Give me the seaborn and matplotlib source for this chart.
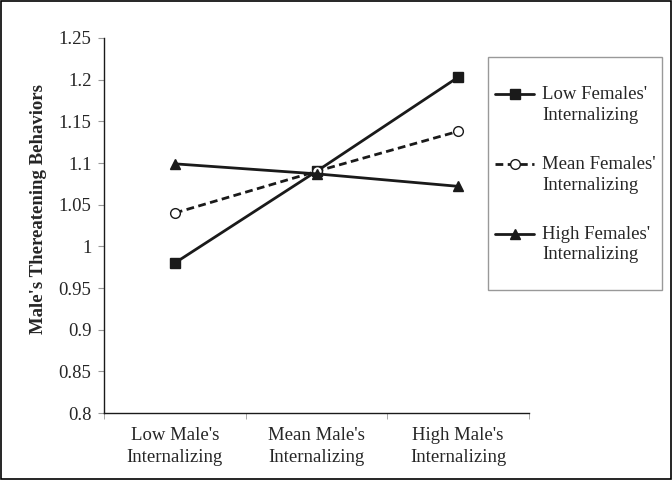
import numpy as np
import pandas as pd
import matplotlib
matplotlib.use("Agg")
import matplotlib.pyplot as plt
import seaborn as sns
from matplotlib.patches import Rectangle

# data
categories = ["Low Male's\nInternalizing", "Mean Male's\nInternalizing", "High Male's\nInternalizing"]
low_females = [0.980, 1.090, 1.203]
mean_females = [1.040, 1.090, 1.138]
high_females = [1.099, 1.087, 1.072]
series_names = ["Low Females'\nInternalizing", "Mean Females'\nInternalizing", "High Females'\nInternalizing"]
y_ticks = [0.8, 0.85, 0.9, 0.95, 1, 1.05, 1.1, 1.15, 1.2, 1.25]

sns.set_style("white")
plt.rcParams['font.family'] = ['Liberation Serif', 'DejaVu Serif']

W, H = 672, 480
fig = plt.figure(figsize=(6.72, 4.8), dpi=100)
ax = fig.add_axes([104 / W, 67 / H, 425 / W, 375 / H])

styles = [
    dict(marker='s', linestyle='-', mfc='#1a1a1a', ms=7.5),
    dict(marker='o', linestyle=(0, (2.8, 1.6)), mfc='white', ms=7),
    dict(marker='^', linestyle='-', mfc='#1a1a1a', ms=7.5),
]
x_pos = np.arange(len(categories))
for vals, name, st in zip([low_females, mean_females, high_females], series_names, styles):
    sns.lineplot(x=x_pos, y=vals, ax=ax, color='#1a1a1a', linewidth=2.0,
                 marker=st['marker'], linestyle=st['linestyle'],
                 markerfacecolor=st['mfc'], markeredgecolor='#1a1a1a',
                 markersize=st['ms'], markeredgewidth=1.0, label=name)

ax.set_xlim(-0.5, 2.5)
ax.set_ylim(0.8, 1.25)
ax.set_yticks(y_ticks)
ax.set_yticklabels([f"{t:g}" for t in y_ticks], fontsize=13.5)
ax.set_xticks(x_pos)
ax.set_xticklabels(categories, fontsize=13.5, linespacing=1.4)
ax.set_xticks([-0.5, 0.5, 1.5, 2.5], minor=True)
ax.tick_params(axis='x', which='major', length=0, pad=10)
ax.tick_params(axis='x', which='minor', length=4, color='#999999', direction='out', bottom=True)
ax.tick_params(axis='y', length=4, color='#999999', direction='out', left=True, pad=5)

for s in ['top', 'right']:
    ax.spines[s].set_visible(False)
for s in ['left', 'bottom']:
    ax.spines[s].set_color('#1a1a1a')
    ax.spines[s].set_linewidth(1.0)

ax.set_ylabel("Male's Thereatening Behaviors", fontsize=13.5, fontweight='bold')
ax.yaxis.set_label_coords(-0.134, 0.544)

ax.get_legend().remove()
handles, labels = ax.get_legend_handles_labels()
leg = fig.legend(handles, labels, loc='upper left', bbox_to_anchor=(495 / W, 1 - 86 / H),
                 fontsize=13.5, frameon=False, handlelength=2.1, handleheight=1.2,
                 labelspacing=1.7, borderpad=0, handletextpad=0.4, borderaxespad=0)
for t in leg.get_texts():
    t.set_linespacing(1.3)
# put the legend handle on the first text line, as in the source
for col in leg._legend_handle_box.get_children():
    for row in col.get_children():
        row.align = 'top'

# legend frame and outer border of the figure
fig.patches.append(Rectangle((488 / W, 1 - 290 / H), 174 / W, 233 / H, transform=fig.transFigure,
                             fill=False, edgecolor='#999999', linewidth=1.0))
fig.patches.append(Rectangle((0.002, 0.002), 0.996, 0.996, transform=fig.transFigure,
                             fill=False, edgecolor='black', linewidth=1.2))

fig.savefig("out.png", dpi=100)
